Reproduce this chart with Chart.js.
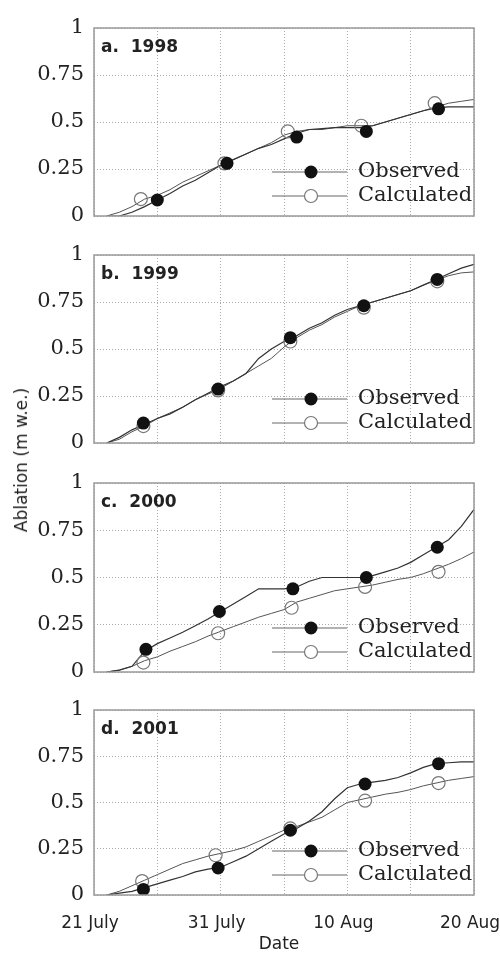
<!DOCTYPE html>
<html>
<head>
<meta charset="utf-8">
<script src="https://cdn.jsdelivr.net/npm/chart.js@4.4.1/dist/chart.umd.min.js"></script>
<style>
  html, body { margin: 0; padding: 0; background: #fff; }
  body { width: 500px; height: 960px; position: relative; overflow: hidden; }
  .panel { position: absolute; left: 0; }
  #ylab { position: absolute; left: 21px; top: 460px; transform: translate(-50%, -50%) rotate(-90deg);
          font: 17px "DejaVu Sans"; white-space: nowrap; color: #222; }
  #xlab { position: absolute; left: 279px; top: 943px; transform: translate(-50%, -50%);
          font: 17px "DejaVu Sans"; color: #222; }
</style>
</head>
<body>
<canvas id="pA" class="panel" width="500" height="224" style="top:4px"></canvas>
<canvas id="pB" class="panel" width="500" height="224" style="top:231px"></canvas>
<canvas id="pC" class="panel" width="500" height="225" style="top:459px"></canvas>
<canvas id="pD" class="panel" width="500" height="274" style="top:686px"></canvas>
<div id="ylab">Ablation (m w.e.)</div>
<div id="xlab">Date</div>
<script>
// days after 21 July
const days = [1, 2, 3, 4, 5, 6, 7, 8, 9, 10, 11, 12, 13, 14, 15, 16, 17, 18, 19, 20, 21, 22, 23, 24, 25, 26, 27, 28, 29, 30];
const tickDays = [0, 10, 20, 30];
const tickNames = ['21 July', '31 July', '10 Aug', '20 Aug'];
const yTickVals = [0, 0.25, 0.5, 0.75, 1];
const yTickNames = ['0', '0.25', '0.5', '0.75', '1'];
const seriesNames = ['Observed', 'Calculated'];

// 1998
const obs1998 = [0, 0, 0.02, 0.05, 0.085, 0.12, 0.16, 0.19, 0.23, 0.27, 0.3, 0.33, 0.36, 0.38, 0.41, 0.44, 0.46, 0.465, 0.47, 0.47, 0.47, 0.48, 0.5, 0.52, 0.54, 0.56, 0.575, 0.58, 0.58, 0.58];
const calc1998 = [0, 0.02, 0.05, 0.09, 0.11, 0.14, 0.18, 0.21, 0.24, 0.27, 0.3, 0.33, 0.36, 0.39, 0.43, 0.45, 0.46, 0.46, 0.47, 0.48, 0.48, 0.48, 0.5, 0.52, 0.54, 0.56, 0.58, 0.6, 0.61, 0.62];
const obsDays1998 = [5, 10.5, 16, 21.5, 27.2];
const obsPts1998 = [0.085, 0.28, 0.42, 0.45, 0.57];
const calcDays1998 = [3.7, 10.3, 15.3, 21.1, 26.9];
const calcPts1998 = [0.09, 0.28, 0.45, 0.48, 0.6];

// 1999
const obs1999 = [0, 0.03, 0.07, 0.1, 0.13, 0.155, 0.19, 0.23, 0.265, 0.3, 0.33, 0.37, 0.45, 0.5, 0.54, 0.57, 0.61, 0.64, 0.68, 0.71, 0.73, 0.75, 0.77, 0.79, 0.81, 0.84, 0.87, 0.9, 0.93, 0.95];
const calc1999 = [0, 0.02, 0.06, 0.09, 0.13, 0.16, 0.19, 0.23, 0.26, 0.29, 0.33, 0.37, 0.41, 0.45, 0.51, 0.56, 0.6, 0.63, 0.67, 0.7, 0.73, 0.75, 0.77, 0.79, 0.81, 0.84, 0.865, 0.89, 0.905, 0.91];
const obsDays1999 = [3.9, 9.8, 15.5, 21.3, 27.1];
const obsPts1999 = [0.106, 0.287, 0.56, 0.73, 0.87];
const calcDays1999 = [3.9, 9.8, 15.5, 21.3, 27.1];
const calcPts1999 = [0.09, 0.28, 0.54, 0.72, 0.86];

// 2000
const obs2000 = [0, 0.01, 0.03, 0.11, 0.15, 0.18, 0.21, 0.245, 0.28, 0.32, 0.36, 0.4, 0.44, 0.44, 0.44, 0.45, 0.48, 0.5, 0.5, 0.5, 0.5, 0.51, 0.53, 0.55, 0.58, 0.62, 0.66, 0.7, 0.77, 0.86];
const calc2000 = [0, 0.01, 0.03, 0.06, 0.08, 0.11, 0.135, 0.16, 0.19, 0.215, 0.24, 0.265, 0.29, 0.31, 0.33, 0.37, 0.39, 0.41, 0.43, 0.44, 0.45, 0.46, 0.475, 0.49, 0.5, 0.52, 0.545, 0.57, 0.6, 0.635];
const obsDays2000 = [4.1, 9.9, 15.7, 21.5, 27.1];
const obsPts2000 = [0.12, 0.32, 0.44, 0.5, 0.66];
const calcDays2000 = [3.9, 9.8, 15.6, 21.4, 27.2];
const calcPts2000 = [0.05, 0.205, 0.34, 0.45, 0.53];

// 2001
const obs2001 = [0, 0.01, 0.02, 0.04, 0.06, 0.08, 0.1, 0.125, 0.14, 0.15, 0.18, 0.21, 0.25, 0.29, 0.33, 0.36, 0.4, 0.45, 0.52, 0.58, 0.6, 0.61, 0.62, 0.635, 0.66, 0.69, 0.71, 0.715, 0.72, 0.72];
const calc2001 = [0, 0.02, 0.05, 0.08, 0.11, 0.14, 0.17, 0.19, 0.21, 0.225, 0.24, 0.26, 0.29, 0.32, 0.35, 0.37, 0.395, 0.42, 0.46, 0.5, 0.515, 0.53, 0.545, 0.555, 0.57, 0.59, 0.605, 0.62, 0.63, 0.64];
const obsDays2001 = [3.9, 9.8, 15.5, 21.4, 27.2];
const obsPts2001 = [0.03, 0.146, 0.35, 0.6, 0.71];
const calcDays2001 = [3.8, 9.6, 15.5, 21.4, 27.2];
const calcPts2001 = [0.075, 0.215, 0.36, 0.51, 0.605];

const xy = (xs, ys) => xs.map((x, i) => ({ x: x, y: ys[i] }));

// box, panel label and the in-plot legend
const panelDecor = {
  id: 'panelDecor',
  afterDatasetsDraw(chart, args, opts) {
    const ctx = chart.ctx;
    const a = chart.chartArea;
    const rows = [a.bottom - 44, a.bottom - 20];
    ctx.save();
    rows.forEach((y, i) => {
      ctx.strokeStyle = '#666';
      ctx.lineWidth = 1;
      ctx.beginPath();
      ctx.moveTo(272, y);
      ctx.lineTo(347, y);
      ctx.stroke();
      ctx.beginPath();
      ctx.arc(311, y, 6.5, 0, Math.PI * 2);
      if (i === 0) {
        ctx.fillStyle = '#111';
        ctx.fill();
      } else {
        ctx.fillStyle = '#fff';
        ctx.fill();
        ctx.strokeStyle = '#777';
        ctx.lineWidth = 1.2;
        ctx.stroke();
      }
      ctx.fillStyle = '#222';
      ctx.font = '21px "DejaVu Serif"';
      ctx.textAlign = 'left';
      ctx.textBaseline = 'middle';
      ctx.fillText(seriesNames[i], 358, y);
    });
    ctx.fillStyle = '#222';
    ctx.font = 'bold 17px "DejaVu Sans"';
    ctx.textBaseline = 'alphabetic';
    ctx.fillText(opts.title, a.left + 7, a.top + 24);
    ctx.restore();
  },
  afterDraw(chart) {
    const ctx = chart.ctx;
    const a = chart.chartArea;
    ctx.save();
    ctx.strokeStyle = '#999';
    ctx.lineWidth = 1.5;
    ctx.strokeRect(a.left, a.top, a.right - a.left, a.bottom - a.top);
    ctx.restore();
  }
};

function makePanel(id, title, obs, calc, obsDays, obsPts, calcDays, calcPts, showX) {
  new Chart(document.getElementById(id), {
    type: 'line',
    data: {
      datasets: [
        { label: 'Observed', data: xy(obsDays, obsPts), showLine: false, pointRadius: 6.5,
          pointBackgroundColor: '#111', pointBorderWidth: 0, order: 0 },
        { label: 'Calculated', data: xy(calcDays, calcPts), showLine: false, pointRadius: 6.5,
          pointBackgroundColor: 'rgba(255,255,255,0)', pointBorderColor: '#777', pointBorderWidth: 1.2, order: 1 },
        { label: 'Observed line', data: xy(days, obs), borderColor: '#333', borderWidth: 1.2,
          pointRadius: 0, tension: 0, order: 2 },
        { label: 'Calculated line', data: xy(days, calc), borderColor: '#555', borderWidth: 1,
          pointRadius: 0, tension: 0, order: 3 }
      ]
    },
    options: {
      responsive: false,
      animation: false,
      devicePixelRatio: 1,
      layout: { padding: { top: 24, right: 26, bottom: showX ? 0 : 12, left: 0 } },
      plugins: { legend: { display: false }, tooltip: { enabled: false }, panelDecor: { title: title } },
      scales: {
        x: {
          type: 'linear', min: 0, max: 30,
          ticks: {
            display: showX, stepSize: 5, autoSkip: false, maxRotation: 0, padding: 18, labelOffset: -4,
            color: '#222', font: { family: 'DejaVu Sans', size: 17 },
            callback: v => { const i = tickDays.indexOf(v); return i >= 0 ? tickNames[i] : ''; }
          },
          grid: { color: '#aaa', lineWidth: 1, drawTicks: false },
          border: { display: false, dash: [1, 2] },
          afterFit: s => { s.height = showX ? 65 : 0; s.paddingLeft = 0; s.paddingRight = 0; }
        },
        y: {
          min: 0, max: 1,
          ticks: {
            stepSize: 0.25, padding: 10, color: '#222', font: { family: 'DejaVu Serif', size: 21 },
            callback: v => { const i = yTickVals.indexOf(v); return i >= 0 ? yTickNames[i] : ''; }
          },
          grid: { color: '#aaa', lineWidth: 1, drawTicks: false },
          border: { display: false, dash: [1, 2] },
          afterFit: s => { s.width = 94; s.paddingTop = 0; s.paddingBottom = 0; }
        }
      }
    },
    plugins: [panelDecor]
  });
}

makePanel('pA', 'a.  1998', obs1998, calc1998, obsDays1998, obsPts1998, calcDays1998, calcPts1998, false);
makePanel('pB', 'b.  1999', obs1999, calc1999, obsDays1999, obsPts1999, calcDays1999, calcPts1999, false);
makePanel('pC', 'c.  2000', obs2000, calc2000, obsDays2000, obsPts2000, calcDays2000, calcPts2000, false);
makePanel('pD', 'd.  2001', obs2001, calc2001, obsDays2001, obsPts2001, calcDays2001, calcPts2001, true);
</script>
</body>
</html>
